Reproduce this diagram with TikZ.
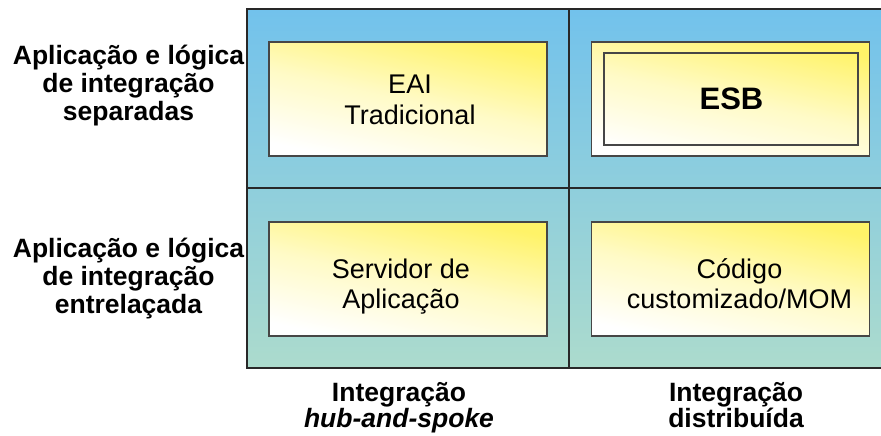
\documentclass[tikz,border=0pt]{standalone}
\usepackage{fontspec}
\setmainfont{Liberation Sans}

\definecolor{panelTop}{RGB}{114,194,236}
\definecolor{panelBot}{RGB}{172,219,205}
\definecolor{boxYellow}{RGB}{255,243,104}
\definecolor{frameGray}{RGB}{40,40,40}
\definecolor{boxEdge}{RGB}{70,70,70}

\tikzset{
  gridline/.style={draw=frameGray, line width=1.6pt},
  cellbox/.style={shade, top color=boxYellow, bottom color=white,
    middle color=boxYellow!38!white,
    shading angle=-12, draw=boxEdge, line width=1.2pt,
    minimum width=278pt, minimum height=114pt, inner sep=0pt},
  innerbox/.style={draw=boxEdge, line width=1.2pt, fill=none,
    minimum width=254pt, minimum height=92pt, inner sep=0pt},
  axislabel/.style={anchor=base, inner sep=0pt, text=black,
    font=\fontsize{26.5}{27.5}\selectfont\bfseries},
  boxtext/.style={anchor=base, inner sep=0pt, text=black,
    font=\fontsize{27}{30}\selectfont},
  esbtext/.style={anchor=base, inner sep=0pt, text=black,
    font=\fontsize{31}{34}\selectfont\bfseries}
}

\begin{document}
\begin{tikzpicture}[x=1pt, y=-1pt]
  \useasboundingbox (0,0) rectangle (881,436);
  \clip (0,0) rectangle (881,436);

  % quadrant panel
  \shade[top color=panelTop, bottom color=panelBot] (247,9) rectangle (895,368);
  \draw[gridline] (247,9) rectangle (895,368);
  \draw[gridline] (247,188) -- (895,188);
  \draw[gridline] (569,9) -- (569,368);

  % solution boxes
  \node[cellbox] (eai) at (408,99) {};
  \node[cellbox] (esb) at (730.5,99) {};
  \node[innerbox] (esbin) at (731,99) {};
  \node[cellbox] (srv) at (408,279) {};
  \node[cellbox] (mom) at (730.5,279) {};

  \node[boxtext] (eai1) at (410,93) {EAI};
  \node[boxtext] (eai2) at (410,124) {Tradicional};
  \node[esbtext] (esb1) at (731.5,109) {ESB};
  \node[boxtext] (srv1) at (401,278) {Servidor de};
  \node[boxtext] (srv2) at (401,308) {Aplicação};
  \node[boxtext] (mom1) at (739.5,278) {Código};
  \node[boxtext] (mom2) at (739.5,308) {customizado/MOM};

  % row labels
  \node[axislabel] (r1a) at (128.5,65) {Aplicação e lógica};
  \node[axislabel] (r1b) at (128.5,92.5) {de integração};
  \node[axislabel] (r1c) at (128.5,120) {separadas};
  \node[axislabel] (r2a) at (128.5,257) {Aplicação e lógica};
  \node[axislabel] (r2b) at (128.5,285) {de integração};
  \node[axislabel] (r2c) at (128.5,313) {entrelaçada};

  % column labels
  \node[axislabel] (c1a) at (399,401) {Integração};
  \node[axislabel] (c1b) at (399,427) {\itshape hub-and-spoke};
  \node[axislabel] (c2a) at (736,401) {Integração};
  \node[axislabel] (c2b) at (736,427) {distribuída};
\end{tikzpicture}
\end{document}
